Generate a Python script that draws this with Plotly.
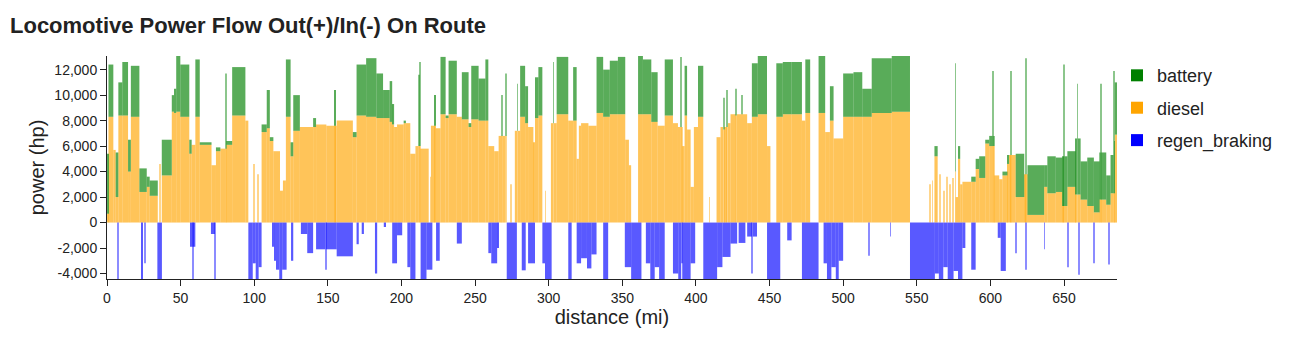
import numpy as np
import plotly.graph_objects as go

# ---------------- data ----------------
route_end_mi = 686

# positive power segments: start distance (mi), diesel (hp), battery (hp, stacked on diesel)
pos_start = [0, 1, 4.3, 5.9, 7.7, 10.4, 14.3, 16.2, 22, 27, 29, 34.5, 35.8, 36.4, 37.2, 44, 45.5, 47, 49.8,
             55.9, 57.5, 60, 63, 71, 74, 77, 80.5, 81, 85, 94, 96, 99.5, 100, 102.5, 103, 105, 108.5,
             110.6, 113, 117.5, 119.5, 121.5, 124.7, 126.5, 131, 140, 142, 149, 154.5, 155.5, 156, 167,
             169.5, 176, 183, 187.5, 192, 193.7, 195, 197, 201.5, 203, 206, 209.5, 211.5, 212.2, 212.8,
             218.5, 219.5, 220, 222.5, 223.3, 226.5, 230, 232, 237.6, 241, 245.6, 247.4, 252.4, 257,
             259, 263, 266, 268, 268.7, 270.5, 271.2, 274, 274.5, 277, 278.5, 279.1, 280.6, 284, 286,
             289.6, 290.7, 293, 295.7, 297.5, 298, 301.5, 303, 303.6, 305.4, 313.3, 316.6, 319, 320.5,
             322, 327, 332.5, 337, 341.5, 347, 352, 354.5, 356, 360.7, 364, 369.7, 374, 378.8, 384.4,
             387.8, 389.5, 390, 390.7, 392.3, 394, 396.4, 398.6, 401.4, 405, 409, 409.5, 414, 416.7,
             418.5, 419.2, 421, 421.7, 423.5, 427, 427.7, 431, 431.6, 434.8, 438, 442, 448.3, 450.6,
             454.6, 459, 465, 472, 474.3, 477.6, 483.3, 487.8, 491, 493.5, 500, 507, 513, 519.4, 533,
             545.4, 558.5, 559, 560.5, 561, 562, 564.2, 565.5, 566, 568, 568.6, 570, 570.6, 572, 572.8,
             574, 574.8, 576, 576.4, 578, 579.5, 581, 587, 590, 592.4, 596.5, 599.2, 601.5, 602.1,
             602.6, 606, 608.2, 611.6, 612.7, 613.6, 614.2, 617.2, 623, 624, 624.5, 625.2, 636.5,
             638.7, 644.4, 648.9, 649.8, 650.3, 652.3, 657.9, 659, 659.5, 661.3, 665.8, 670.3, 674.2,
             674.8, 675.3, 678.7, 681.6, 683.6, 684.1, 684.5]
diesel_hp = [700, 8300, 5700, 2000, 8400, 8400, 4000, 8300, 2400, 2800, 2100, 0, 4600, 0, 3700, 8700, 8600, 8700, 8300,
             5400, 6100, 8300, 6100, 4500, 5600, 5800, 5800, 6100, 8400, 8000, 0, 4600, 0, 3800, 0, 7100, 7400,
             6400, 5600, 2500, 3300, 8300, 5200, 7200, 7500, 7500, 7700, 7600, 7600, 7600, 8000, 6700,
             8400, 8300, 8200, 8200, 7900, 7700, 7500, 7700, 7800, 7800, 5400, 6000, 6000, 6000, 5800,
             0, 3600, 7600, 7600, 7400, 8500, 8200, 8500, 8300, 8100, 7500, 8100, 8000, 8000,
             6000, 5600, 6800, 6800, 6800, 6800, 0, 3000, 0, 7200, 7200, 7200, 8300, 7800, 7500,
             6300, 8200, 8400, 0, 2500, 0, 7800, 7800, 7800, 8500, 8000, 8000, 5000, 7600,
             7800, 7600, 8600, 8300, 8500, 8500, 6500, 4500, 0, 8500, 8500, 7900, 7600, 8400, 7800,
             7500, 7500, 7500, 6000, 8400, 7300, 2800, 7500, 8300, 0, 2000, 0, 6700, 7500,
             7300, 7500, 7500, 7800, 8500, 8400, 8500, 8500, 8500, 7800, 8300, 8500, 6000, 0,
             8300, 8500, 8500, 8000, 8600, 0, 8600, 7100, 8000, 6600, 8300, 8300, 8300, 8600, 8700,
             0, 3000, 0, 3300, 0, 5200, 0, 3800, 0, 2500, 0, 3600, 0, 3000, 0,
             3500, 0, 4000, 2000, 5000, 3000, 3200, 3200, 4200, 3500, 6200, 6000, 6000, 6000,
             3700, 3400, 3700, 4600, 5300, 5300, 5300, 2000, 3800, 3800, 3800, 600, 2800,
             2300, 2400, 1300, 1300, 1300, 2800, 2200, 2200, 2200, 1800, 1300, 800, 1800,
             1800, 1800, 1400, 2300, 2300, 2300, 6900]
battery_hp = [4700, 4100, 0, 3500, 2600, 4200, 2500, 4000, 1850, 800, 1200, 0, 0, 0, 2800, 1300, 1900, 4400, 4100,
              1100, 0, 4500, 200, 0, 300, 0, 5900, 300, 3800, 0, 0, 0, 0, 0, 0, 600, 3000,
              300, 0, 0, 0, 4500, 1100, 2800, 0, 700, 0, 0, 2800, 0, 0, 400,
              4000, 4600, 3500, 2200, 3200, 1600, 0, 0, 200, 0, 0, 0, 5600, 6600, 0,
              0, 0, 0, 2400, 0, 4500, 200, 4200, 0, 3700, 300, 4200, 3300, 4800,
              0, 0, 0, 3200, 0, 4900, 0, 0, 0, 0, 3700, 0, 4000, 2900, 0,
              0, 3200, 3800, 0, 0, 0, 0, 4800, 0, 4500, 0, 4200, 0, 0,
              0, 0, 4400, 3700, 4200, 4500, 0, 0, 0, 4600, 4300, 3900, 0, 4400, 0,
              0, 5500, 0, 0, 3900, 0, 0, 0, 4000, 0, 0, 0, 0, 0,
              2500, 0, 2900, 0, 0, 2100, 0, 1500, 0, 0, 4200, 4600, 0, 0,
              4200, 4100, 4100, 0, 4200, 0, 4500, 0, 2700, 0, 3400, 3500, 2200, 4300, 4400,
              0, 0, 0, 0, 0, 800, 0, 0, 0, 0, 0, 0, 0, 0, 0,
              0, 0, 8500, 0, 1000, 0, 0, 400, 800, 1700, 300, 800, 5900, 800,
              0, 0, 300, 700, 0, 6600, 0, 3400, 0, 9100, 0, 3900, 1700,
              2900, 2700, 3900, 11100, 3900, 2800, 4400, 8700, 4400, 3000, 3800, 4000, 3700,
              9100, 3700, 2300, 3000, 9600, 4100, 4100]

# regenerative braking segments: start distance (mi), power (hp, negative = into locomotive)
regen_start = [0, 7, 7.8, 23.5, 24.3, 25.7, 26.2, 34.2, 37.3, 57, 58.3, 58.9, 60, 70.6, 73.3, 73.9, 96, 99, 101,
               103, 105, 112.5, 113.5, 114.8, 117, 119, 122, 125, 126.5, 131.7, 136, 140, 142, 148.3, 148.8,
               156, 167, 169.5, 171, 173, 174.5, 182, 183.5, 188, 189.5, 193.7, 197, 200.5, 204, 206, 209.5,
               213, 217, 221, 223.5, 226, 237.6, 241, 259, 261, 265, 266, 271.5, 278.4, 281.7, 284.4, 286,
               290.7, 295.7, 297.5, 302, 313.3, 315.6, 319, 322, 326, 329, 332.5, 337, 340.4, 351.7, 356,
               363, 366, 369, 372, 375, 378.8, 384.4, 388, 390, 390.7, 396.4, 399.5, 405, 414.4, 418, 423.5,
               428, 429, 433.6, 434.8, 438, 438.6, 441.5, 448.3, 457.3, 462, 465, 472, 483.3, 486.7, 489,
               492, 495, 497, 500, 517, 517.6, 532, 532.5, 545.4, 562.3, 565, 568, 571, 575, 578, 581, 583,
               587, 590, 605, 607, 610.5, 617, 617.6, 624, 624.5, 636.5, 637, 652.3, 652.8, 660, 660.5,
               670.3, 670.8, 680.5, 681]
regen_hp = [0, -4500, 0, -4500, 0, -3200, 0, -4500, 0, -1900, -4500, -1900, 0, -900, -4500, 0, -4500, -3200, -4500,
            -3500, 0, -1900, -3000, -3700, -4500, -3700, 0, -3000, 0, -900, -2400, 0, -2100, -3700, -2100,
            -2650, 0, -1700, 0, -900, 0, -4000, 0, -350, 0, -3200, -1000, 0, -3500, -4500, 0,
            -4500, -3700, 0, -3000, 0, -1650, 0, -2400, -3200, -2000, 0, -4500, 0, -3750, 0, -3200,
            0, -3200, -4500, 0, -4500, 0, -3200, -2800, -3600, -2500, 0, -4500, 0, -3500, -4500,
            0, -3200, -4500, -3500, -4500, 0, -4000, -4500, -3200, -4500, -3200, 0, -4500, -3500, -2700, -1650,
            0, -1600, 0, -1100, -4000, -1100, 0, -4500, 0, -1400, 0, -4500, 0, -3200, -4500,
            -3500, -4500, -3000, 0, -2600, 0, -1100, 0, -4500, -4000, -4500, -3500, -4500, -3800, -4500, -2000, 0,
            -3700, 0, -1200, -3800, 0, -2400, 0, -3700, 0, -2100, 0, -3500, 0, -4100, 0,
            -3200, 0, -3300, 0]

series_names = ["battery", "diesel", "regen_braking"]
series_colors = ["#008000", "#FFA500", "#0000FF"]

x_tick_vals = [0, 50, 100, 150, 200, 250, 300, 350, 400, 450, 500, 550, 600, 650]
y_tick_vals = [-4000, -2000, 0, 2000, 4000, 6000, 8000, 10000, 12000]
y_tick_text = ["-4,000", "-2,000", "0", "2,000", "4,000", "6,000", "8,000", "10,000", "12,000"]


def segments(starts):
    edges = np.array(list(starts) + [route_end_mi], dtype=float)
    widths = np.diff(edges)
    centers = edges[:-1] + widths / 2
    return centers, widths


def opacities(widths):
    return np.where(widths < 0.8, 0.45, 0.65)


pc, pw = segments(pos_start)
rc, rw = segments(regen_start)

fig = go.Figure()

# legend entries (solid colour swatches)
for name, color in zip(series_names, series_colors):
    fig.add_trace(go.Bar(x=[None], y=[None], name=name, marker=dict(color=color, line=dict(width=0)),
                         legendgroup=name, showlegend=True))

fig.add_trace(go.Bar(x=pc, y=diesel_hp, width=pw, name="diesel", legendgroup="diesel", showlegend=False,
                     marker=dict(color=series_colors[1], opacity=opacities(pw), line=dict(width=0)),
                     hoverinfo="skip"))
fig.add_trace(go.Bar(x=pc, y=battery_hp, base=diesel_hp, width=pw, name="battery", legendgroup="battery",
                     showlegend=False,
                     marker=dict(color=series_colors[0], opacity=opacities(pw), line=dict(width=0)),
                     hoverinfo="skip"))
fig.add_trace(go.Bar(x=rc, y=regen_hp, width=rw, name="regen_braking", legendgroup="regen_braking",
                     showlegend=False,
                     marker=dict(color=series_colors[2], opacity=opacities(rw), line=dict(width=0)),
                     hoverinfo="skip"))

font_family = "Liberation Sans, Arial, sans-serif"
axis_color = "#222222"

fig.update_layout(
    width=1290, height=342,
    margin=dict(l=107, r=170, t=56, b=63),
    barmode="overlay",
    paper_bgcolor="white", plot_bgcolor="white",
    font=dict(family=font_family, color="#222222", size=14),
    title=dict(text="<b>Locomotive Power Flow Out(+)/In(-) On Route</b>",
               font=dict(family=font_family, size=22, color="#222222"),
               x=10 / 1290, xref="container", xanchor="left",
               y=1 - 25 / 342, yref="container", yanchor="middle"),
    legend=dict(x=1.0, xanchor="left", y=0.995, yanchor="top",
                font=dict(family=font_family, size=18, color="#222222"),
                traceorder="grouped", tracegroupgap=6, itemclick=False),
    xaxis=dict(range=[0, route_end_mi], tickvals=x_tick_vals, showgrid=False, zeroline=False,
               showline=True, linecolor=axis_color, linewidth=1, ticks="outside", ticklen=6,
               tickcolor=axis_color, tickfont=dict(size=14),
               title=dict(text="distance (mi)", font=dict(size=20), standoff=0)),
    yaxis=dict(range=[-4430, 13070], tickvals=y_tick_vals, ticktext=y_tick_text, showgrid=False,
               zeroline=False, showline=True, linecolor=axis_color, linewidth=1, ticks="outside",
               ticklen=6, tickcolor=axis_color, tickfont=dict(size=14),
               title=dict(text="power (hp)", font=dict(size=20), standoff=4)),
)

fig.write_html("out.html")
